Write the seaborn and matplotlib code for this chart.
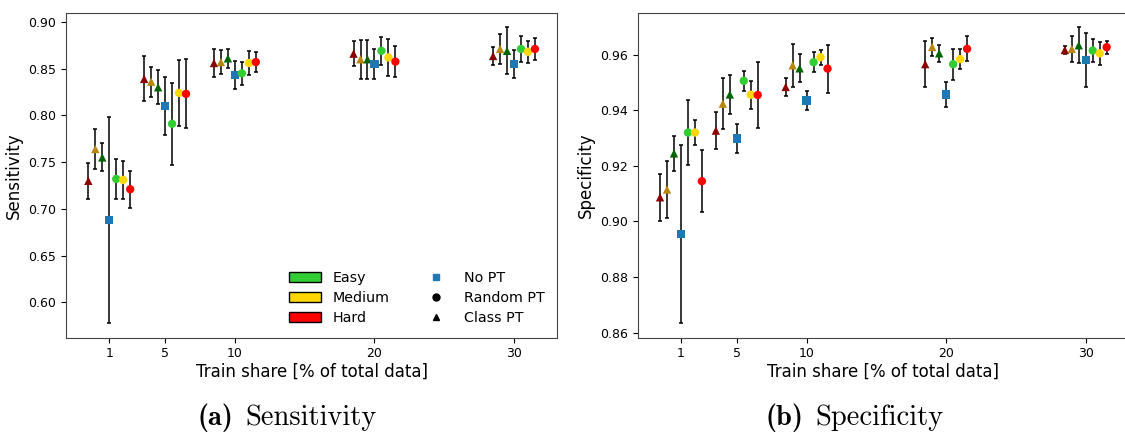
import numpy as np
import pandas as pd
import matplotlib
matplotlib.use("Agg")
import matplotlib.pyplot as plt
from matplotlib.patches import Patch
from matplotlib.lines import Line2D
import seaborn as sns

# ---------------- data ----------------
shares = [1, 5, 10, 20, 30]
series_names = ["Class Hard", "Class Medium", "Class Easy", "No PT",
                "Random Easy", "Random Medium", "Random Hard"]

# Sensitivity (mean, error)
sens_class_hard = [0.730, 0.839, 0.856, 0.866, 0.8635]
sens_class_hard_err = [0.019, 0.024, 0.015, 0.0135, 0.010]
sens_class_medium = [0.764, 0.836, 0.857, 0.860, 0.871]
sens_class_medium_err = [0.021, 0.016, 0.013, 0.021, 0.016]
sens_class_easy = [0.755, 0.830, 0.861, 0.860, 0.869]
sens_class_easy_err = [0.015, 0.018, 0.010, 0.021, 0.025]
sens_nopt = [0.688, 0.810, 0.843, 0.855, 0.855]
sens_nopt_err = [0.110, 0.031, 0.015, 0.016, 0.015]
sens_rand_easy = [0.732, 0.791, 0.845, 0.869, 0.871]
sens_rand_easy_err = [0.021, 0.044, 0.012, 0.015, 0.014]
sens_rand_medium = [0.731, 0.824, 0.856, 0.862, 0.868]
sens_rand_medium_err = [0.020, 0.035, 0.013, 0.020, 0.012]
sens_rand_hard = [0.721, 0.823, 0.857, 0.8575, 0.871]
sens_rand_hard_err = [0.020, 0.037, 0.011, 0.017, 0.012]

# Specificity (mean, error)
spec_class_hard = [0.9087, 0.9327, 0.9484, 0.9566, 0.9617]
spec_class_hard_err = [0.0085, 0.0067, 0.0031, 0.0082, 0.0015]
spec_class_medium = [0.9115, 0.9424, 0.9562, 0.9628, 0.9621]
spec_class_medium_err = [0.0102, 0.0092, 0.0077, 0.0031, 0.0046]
spec_class_easy = [0.9245, 0.9457, 0.9551, 0.9605, 0.9634]
spec_class_easy_err = [0.0063, 0.0070, 0.0050, 0.0030, 0.0064]
spec_nopt = [0.8955, 0.9298, 0.9435, 0.9457, 0.9580]
spec_nopt_err = [0.0320, 0.0052, 0.0034, 0.0044, 0.0097]
spec_rand_easy = [0.9320, 0.9506, 0.9573, 0.9566, 0.9615]
spec_rand_easy_err = [0.0116, 0.0036, 0.0035, 0.0056, 0.0041]
spec_rand_medium = [0.9320, 0.9456, 0.9591, 0.9584, 0.9605]
spec_rand_medium_err = [0.0045, 0.0050, 0.0027, 0.0037, 0.0041]
spec_rand_hard = [0.9145, 0.9455, 0.9550, 0.9621, 0.9627]
spec_rand_hard_err = [0.0112, 0.0117, 0.0086, 0.0045, 0.0024]

# ---------------- styling ----------------
offsets = {"Class Hard": -1.5, "Class Medium": -1.0, "Class Easy": -0.5, "No PT": 0.0,
           "Random Easy": 0.5, "Random Medium": 1.0, "Random Hard": 1.5}
colors = {"Class Hard": "#8B0000", "Class Medium": "#B8860B", "Class Easy": "#006400",
          "No PT": "#1f77b4", "Random Easy": "#32CD32", "Random Medium": "#FFD700",
          "Random Hard": "#FF0000"}
method_of = {"Class Hard": "Class PT", "Class Medium": "Class PT", "Class Easy": "Class PT",
             "No PT": "No PT", "Random Easy": "Random PT", "Random Medium": "Random PT",
             "Random Hard": "Random PT"}
markers = {"Class PT": "^", "No PT": "s", "Random PT": "o"}

sens = {"Class Hard": (sens_class_hard, sens_class_hard_err),
        "Class Medium": (sens_class_medium, sens_class_medium_err),
        "Class Easy": (sens_class_easy, sens_class_easy_err),
        "No PT": (sens_nopt, sens_nopt_err),
        "Random Easy": (sens_rand_easy, sens_rand_easy_err),
        "Random Medium": (sens_rand_medium, sens_rand_medium_err),
        "Random Hard": (sens_rand_hard, sens_rand_hard_err)}
spec = {"Class Hard": (spec_class_hard, spec_class_hard_err),
        "Class Medium": (spec_class_medium, spec_class_medium_err),
        "Class Easy": (spec_class_easy, spec_class_easy_err),
        "No PT": (spec_nopt, spec_nopt_err),
        "Random Easy": (spec_rand_easy, spec_rand_easy_err),
        "Random Medium": (spec_rand_medium, spec_rand_medium_err),
        "Random Hard": (spec_rand_hard, spec_rand_hard_err)}


def build_df(d):
    rows = []
    for name in series_names:
        vals, errs = d[name]
        for s, v, e in zip(shares, vals, errs):
            rows.append({"x": s + offsets[name], "val": v, "err": e,
                         "series": name, "method": method_of[name]})
    return pd.DataFrame(rows)


plt.rcParams["mathtext.fontset"] = "cm"
plt.rcParams["font.family"] = ["DejaVu Sans"]

fig = plt.figure(figsize=(11.25, 4.32), dpi=100)
ax1 = fig.add_axes([66 / 1125, 0.2183, 491.3 / 1125, 0.7523])
ax2 = fig.add_axes([637.7 / 1125, 0.2183, 491.3 / 1125, 0.7523])


def draw(ax, d, ylabel):
    df = build_df(d)
    ax.errorbar(df["x"], df["val"], yerr=df["err"], fmt="none", ecolor="black",
                elinewidth=1.1, capsize=1.6, capthick=1.1, zorder=1)
    sns.scatterplot(data=df, x="x", y="val", hue="series", palette=colors,
                    style="method", markers=markers, s=36, linewidth=0,
                    legend=False, ax=ax, zorder=3)
    ax.set_xticks(shares)
    ax.set_xticklabels([str(s) for s in shares])
    ax.tick_params(labelsize=9)
    ax.set_xlabel("Train share [% of total data]", fontsize=12, labelpad=2)
    ax.set_ylabel(ylabel, fontsize=12)
    for sp in ax.spines.values():
        sp.set_color("#444444")


draw(ax1, sens, "Sensitivity")
draw(ax2, spec, "Specificity")
ax1.set_yticks([0.60, 0.65, 0.70, 0.75, 0.80, 0.85, 0.90])
ax2.set_yticks([0.86, 0.88, 0.90, 0.92, 0.94, 0.96])

handles = [Patch(facecolor="#32CD32", edgecolor="black", label="Easy"),
           Patch(facecolor="#FFD700", edgecolor="black", label="Medium"),
           Patch(facecolor="#FF0000", edgecolor="black", label="Hard"),
           Line2D([], [], ls="none", marker="s", color="#1f77b4", ms=5, label="No PT"),
           Line2D([], [], ls="none", marker="o", color="black", ms=5, label="Random PT"),
           Line2D([], [], ls="none", marker="^", color="black", ms=5, label="Class PT")]
ax1.legend(handles=handles, ncol=2, loc="lower right", frameon=False, fontsize=10.3,
           handlelength=2.2, columnspacing=2.2, labelspacing=0.4)

fig.text(197 / 1125, 7 / 432, "(a)", family="cmb10",
         fontsize=20.5, ha="left", va="baseline")
fig.text(245 / 1125, 7 / 432, "Sensitivity", family="cmr10",
         fontsize=20.5, ha="left", va="baseline")
fig.text(765 / 1125, 7 / 432, "(b)", family="cmb10",
         fontsize=20.5, ha="left", va="baseline")
fig.text(815 / 1125, 7 / 432, "Specificity", family="cmr10",
         fontsize=20.5, ha="left", va="baseline")

fig.savefig("out.png", dpi=100)
